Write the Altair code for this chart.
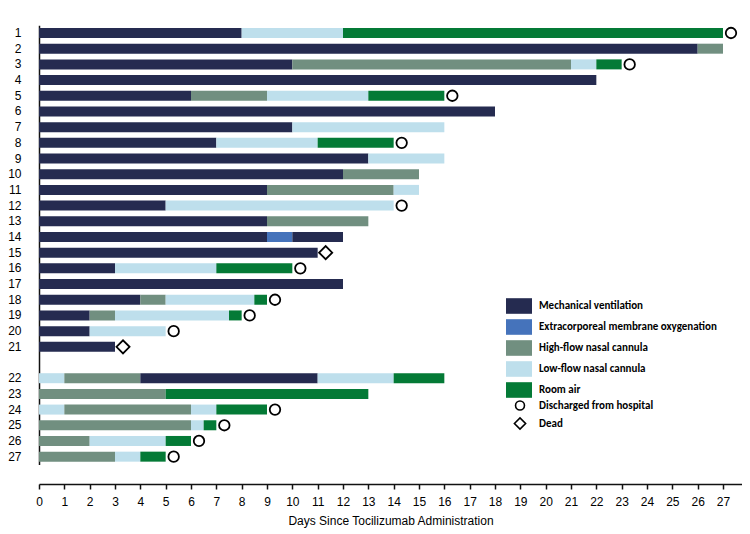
import altair as alt
import pandas as pd

# ---------------- data ----------------
patients = [str(i) for i in range(1, 28)]
y_slots = patients[:21] + [" "] + patients[21:]

MV = "Mechanical ventilation"
EC = "Extracorporeal membrane oxygenation"
HF = "High-flow nasal cannula"
LF = "Low-flow nasal cannula"
RA = "Room air"
states = [MV, EC, HF, LF, RA]
state_colors = ["#252B50", "#4573BB", "#718F80", "#BEDFEC", "#047A36"]

seg_patient = ["1", "1", "1", "2", "2", "3", "3", "3", "3", "4",
               "5", "5", "5", "5", "6", "7", "7", "8", "8", "8",
               "9", "9", "10", "10", "11", "11", "11", "12", "12", "13",
               "13", "14", "14", "14", "15", "16", "16", "16", "17", "18",
               "18", "18", "18", "19", "19", "19", "19", "20", "20", "21",
               "22", "22", "22", "22", "22", "23", "23", "24", "24", "24",
               "24", "25", "25", "25", "26", "26", "26", "27", "27", "27"]
seg_start = [0, 8, 12, 0, 26, 0, 10, 21, 22, 0,
             0, 6, 9, 13, 0, 0, 10, 0, 7, 11,
             0, 13, 0, 12, 0, 9, 14, 0, 5, 0,
             9, 0, 9, 10, 0, 0, 3, 7, 0, 0,
             4, 5, 8.5, 0, 2, 3, 7.5, 0, 2, 0,
             0, 1, 4, 11, 14, 0, 5, 0, 1, 6,
             7, 0, 6, 6.5, 0, 2, 5, 0, 3, 4]
seg_end = [8, 12, 27, 26, 27, 10, 21, 22, 23, 22,
           6, 9, 13, 16, 18, 10, 16, 7, 11, 14,
           13, 16, 12, 15, 9, 14, 15, 5, 14, 9,
           13, 9, 10, 12, 11, 3, 7, 10, 12, 4,
           5, 8.5, 9, 2, 3, 7.5, 8, 2, 5, 3,
           1, 4, 11, 14, 16, 5, 13, 1, 6, 7,
           9, 6, 6.5, 7, 2, 5, 6, 3, 4, 5]
seg_state = [MV, LF, RA, MV, HF, MV, HF, LF, RA, MV,
             MV, HF, LF, RA, MV, MV, LF, MV, LF, RA,
             MV, LF, MV, HF, MV, HF, LF, MV, LF, MV,
             HF, MV, EC, MV, MV, MV, LF, RA, MV, MV,
             HF, LF, RA, MV, HF, LF, RA, MV, LF, MV,
             LF, HF, MV, LF, RA, HF, RA, LF, HF, LF,
             RA, HF, LF, RA, HF, LF, RA, HF, LF, RA]

DIS = "Discharged from hospital"
DEAD = "Dead"
outcome_types = [DIS, DEAD]
out_patient = ["1", "3", "5", "8", "12", "15", "16", "18", "19", "20", "21", "24", "25", "26", "27"]
out_day = [27, 23, 16, 14, 14, 11, 10, 9, 8, 5, 3, 9, 7, 6, 5]
out_type = [DIS, DIS, DIS, DIS, DIS, DEAD, DIS, DIS, DIS, DIS, DEAD, DIS, DIS, DIS, DIS]

day_ticks = list(range(0, 28))

df_seg = pd.DataFrame({"patient": seg_patient, "start": seg_start,
                       "end": seg_end, "state": seg_state})
df_out = pd.DataFrame({"patient": out_patient, "day": out_day, "outcome": out_type})

# ---------------- styling ----------------
AX_FONT = "Liberation Sans, Arial, sans-serif"
LEG_FONT = "Carlito, Lato, sans-serif"
diamond = "M-1.25,0L0,-1.25L1.25,0L0,1.25Z"
rect = "M-1,-0.6L1,-0.6L1,0.6L-1,0.6Z"

x_scale = alt.Scale(domain=[0, 27.75], nice=False, zero=False)
y_scale = alt.Scale(domain=y_slots, range=[17.15, 456.5], paddingInner=0, paddingOuter=0)

x_axis = alt.Axis(title="Days Since Tocilizumab Administration", values=day_ticks,
                  format="d", grid=False, tickSize=5, tickWidth=1.5,
                  tickColor="#111", domainColor="#111", domainWidth=1.5, labelPadding=7,
                  labelOverlap=False, labelFlush=False,
                  labelFont=AX_FONT, labelFontSize=12, labelColor="black",
                  titleFont=AX_FONT, titleFontSize=12, titleFontWeight="normal",
                  titleColor="black", titlePadding=8)
y_axis = alt.Axis(title=None, ticks=False, grid=False, labelPadding=18,
                  domainColor="#111", domainWidth=1.5, labelFont=AX_FONT,
                  labelFontSize=12, labelColor="black", labelAlign="right")

bars = alt.Chart(df_seg).mark_bar(height=10).encode(
    x=alt.X("start:Q", scale=x_scale, axis=x_axis),
    x2="end:Q",
    y=alt.Y("patient:N", scale=y_scale, axis=y_axis, sort=y_slots),
    color=alt.Color("state:N", scale=alt.Scale(domain=states, range=state_colors),
                    legend=alt.Legend(title=None, orient="none", legendX=467, legendY=285,
                                      symbolType=rect, symbolSize=676, symbolStrokeWidth=0,
                                      symbolOpacity=1, labelFont=LEG_FONT, labelFontSize=11,
                                      labelFontWeight="bold", labelColor="black",
                                      labelLimit=300, labelOffset=7, rowPadding=-5.6,
                                      padding=0)),
)

markers = alt.Chart(df_out).mark_point(filled=False, xOffset=8, size=110, strokeWidth=1.8,
                                       color="black", opacity=1).encode(
    x=alt.X("day:Q", scale=x_scale, axis=x_axis),
    y=alt.Y("patient:N", scale=y_scale, sort=y_slots, axis=y_axis),
    shape=alt.Shape("outcome:N",
                    scale=alt.Scale(domain=outcome_types, range=["circle", diamond]),
                    legend=alt.Legend(title=None, orient="none", legendX=475.5, legendY=392,
                                      symbolSize=80, symbolStrokeWidth=1.6,
                                      symbolStrokeColor="black", symbolFillColor="white",
                                      labelFont=LEG_FONT, labelFontSize=11,
                                      labelFontWeight="bold", labelColor="black",
                                      labelLimit=300, labelOffset=13.6, rowPadding=0,
                                      padding=0)),
)

chart = alt.layer(bars, markers).resolve_scale(color="independent").properties(
    width=703, height=476,
    autosize=alt.AutoSizeParams(type="none"),
    padding={"left": 31, "top": 0, "right": 0, "bottom": 45},
    background="white",
).configure_view(stroke=None)

chart.save("out.html", embed_options={"renderer": "svg", "actions": False})
